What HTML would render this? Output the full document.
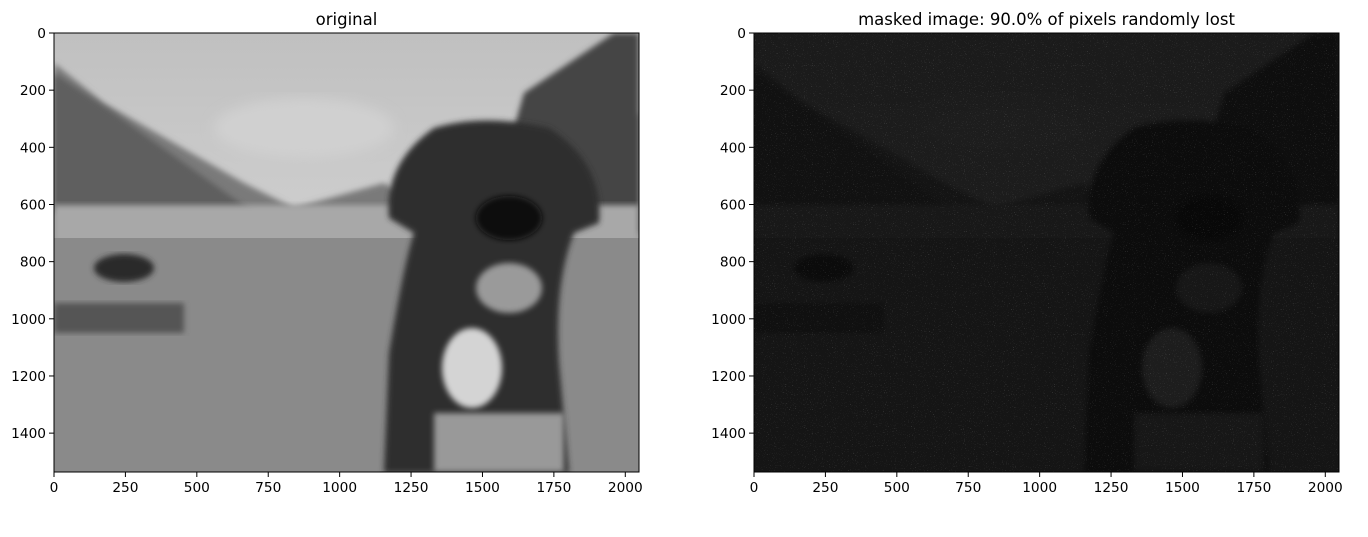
<!DOCTYPE html>
<html><head><meta charset="utf-8"><style>
body{margin:0;background:#fff;width:1368px;height:532px;overflow:hidden;font-family:"Liberation Sans","DejaVu Sans",sans-serif}
svg text{font-family:"DejaVu Sans","Liberation Sans",sans-serif}
</style></head><body>
<svg id="fig" width="1368" height="532" viewBox="0 0 1368 532" xmlns="http://www.w3.org/2000/svg">
<defs>
<filter id="bl" x="-10%" y="-10%" width="120%" height="120%"><feGaussianBlur stdDeviation="3"/></filter>
<filter id="bl2"><feGaussianBlur stdDeviation="6"/></filter>
<filter id="noise" x="0" y="0" width="100%" height="100%">
<feTurbulence type="fractalNoise" baseFrequency="0.95" numOctaves="1" seed="3" result="n"/>
<feColorMatrix type="matrix" values="0 0 0 0 1  0 0 0 0 1  0 0 0 0 1  0 0 0 4 -2.6"/>
</filter>
<linearGradient id="sky" x1="0" y1="0" x2="0" y2="1"><stop offset="0" stop-color="#c0c0c0"/><stop offset="1" stop-color="#e0e0e0"/></linearGradient>
<clipPath id="c1"><rect x="54" y="33" width="585" height="439"/></clipPath>
<clipPath id="c2"><rect x="754" y="33" width="585" height="439"/></clipPath>
<g id="photo">
<rect x="0" y="0" width="585" height="439" fill="url(#sky)"/>
<polygon points="0,30 50,70 120,110 190,150 240,175 330,150 360,170 585,80 585,250 0,250" fill="#7a7a7a" filter="url(#bl)"/>
<polygon points="0,40 60,80 130,130 200,180 0,180" fill="#5e5e5e" filter="url(#bl)"/>
<polygon points="470,60 560,0 585,0 585,200 430,200" fill="#444" filter="url(#bl)"/>
<rect x="0" y="172" width="585" height="40" fill="#a8a8a8" filter="url(#bl)"/>
<rect x="0" y="205" width="585" height="234" fill="#8a8a8a"/>
<rect x="0" y="270" width="130" height="30" fill="#555" filter="url(#bl)"/>
<ellipse cx="70" cy="235" rx="30" ry="14" fill="#2a2a2a" filter="url(#bl)"/>
<ellipse cx="250" cy="95" rx="90" ry="30" fill="#d0d0d0" filter="url(#bl2)"/>
<path d="M330,440 L335,320 Q350,230 360,200 L335,185 Q330,130 380,95 Q430,80 495,95 Q550,130 545,190 L520,200 Q500,250 505,330 L515,440 Z" fill="#2e2e2e" filter="url(#bl)"/>
<ellipse cx="455" cy="185" rx="33" ry="22" fill="#111" filter="url(#bl)"/>
<ellipse cx="455" cy="255" rx="33" ry="25" fill="#9a9a9a" filter="url(#bl)"/>
<ellipse cx="418" cy="335" rx="30" ry="40" fill="#d4d4d4" filter="url(#bl)"/>
<rect x="380" y="380" width="130" height="59" fill="#999" filter="url(#bl)"/>
</g>
</defs>
<g clip-path="url(#c1)"><use href="#photo" x="54" y="33"/></g>
<g clip-path="url(#c2)">
<rect x="754" y="33" width="585" height="439" fill="#080808"/>
<use href="#photo" x="754" y="33" opacity="0.1"/>
<rect x="754" y="33" width="585" height="439" filter="url(#noise)" opacity="0.35"/>
</g>
<g id="axes"></g>
</svg>
<script>
const xTicks=[0,250,500,750,1000,1250,1500,1750,2000];
const yTicks=[0,200,400,600,800,1000,1200,1400];
const imgW=2048, imgH=1536;
const panels=[{x0:54,title:"original"},{x0:754,title:"masked image: 90.0% of pixels randomly lost"}];
const y0=33, pw=585, ph=439;
const NS="http://www.w3.org/2000/svg";
const g=document.getElementById('axes');
function mk(t,a,txt){const e=document.createElementNS(NS,t);for(const k in a)e.setAttribute(k,a[k]);if(txt!==undefined)e.textContent=txt;g.appendChild(e);return e;}
panels.forEach((p,i)=>{
 const sx=v=>p.x0+v/imgW*pw, sy=v=>y0+v/imgH*ph;
 const fr=mk('rect',{x:p.x0,y:y0,width:pw,height:ph,fill:'none',stroke:'#000','stroke-width':1});
 
 
 const t=mk('text',{x:p.x0+pw/2,y:y0-8,'text-anchor':'middle','font-size':16.5,fill:'#000'},p.title);
 
 
 xTicks.forEach(v=>{const x=sx(v);mk('line',{x1:x,x2:x,y1:y0+ph,y2:y0+ph+5,stroke:'#000'});
  const l=mk('text',{x:x,y:y0+ph+20,'text-anchor':'middle','font-size':13.7},String(v));
  
  });
 yTicks.forEach(v=>{const y=sy(v);mk('line',{x1:p.x0-5,x2:p.x0,y1:y,y2:y,stroke:'#000'});
  const l=mk('text',{x:p.x0-8,y:y+5,'text-anchor':'end','font-size':13.7},String(v));
  
  });
});
</script>
</body></html>
